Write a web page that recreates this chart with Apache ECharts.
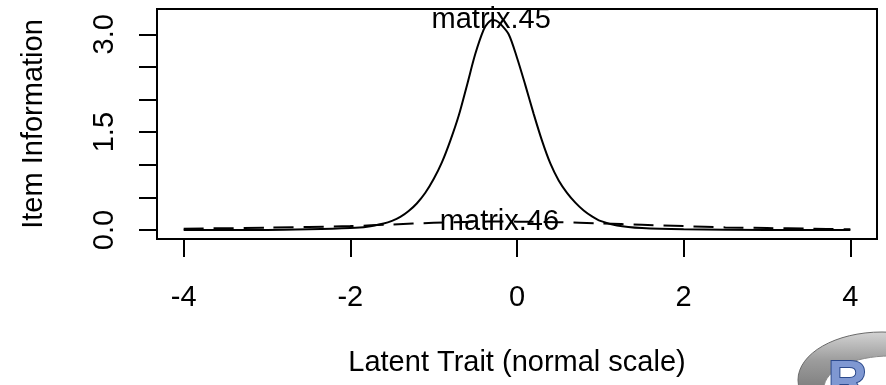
<!DOCTYPE html>
<html>
<head>
<meta charset="utf-8">
<script src="https://cdn.jsdelivr.net/npm/echarts@6/dist/echarts.min.js"></script>
<style>
html,body{margin:0;padding:0;background:#fff;}
#chart{width:886px;height:385px;}
</style>
</head>
<body>
<div id="chart"></div>
<script>
// Latent trait values (x) and item information (y)
var theta45 = [-4.0,-3.0,-2.5,-2.0,-1.8,-1.6,-1.5,-1.4,-1.3,-1.2,-1.1,-1.0,-0.9,-0.8,-0.7,-0.6,-0.5,-0.4,-0.35,-0.3,-0.25,-0.2,-0.1,0.0,0.1,0.2,0.3,0.4,0.5,0.6,0.7,0.8,0.9,1.0,1.2,1.5,2.0,3.0,4.0];
var info45  = [0.00,0.00,0.01,0.03,0.05,0.10,0.14,0.20,0.29,0.41,0.57,0.78,1.04,1.37,1.75,2.22,2.70,3.07,3.17,3.22,3.21,3.16,3.00,2.64,2.22,1.78,1.37,1.02,0.76,0.57,0.42,0.30,0.21,0.14,0.07,0.03,0.01,0.00,0.00];
var theta46 = [-4.0,-3.0,-2.0,-1.5,-1.0,-0.5,-0.2,0.0,0.5,1.0,1.5,2.0,2.5,3.0,3.5,4.0];
var info46  = [0.020,0.035,0.060,0.085,0.110,0.125,0.130,0.128,0.120,0.100,0.080,0.060,0.040,0.030,0.020,0.012];
var itemNames = ['matrix.45','matrix.46'];
var labelTheta = [-0.31,-0.21];
var labelInfo = [3.22,0.13];
var xTicks = [-4,-2,0,2,4];
var yTicks = [0,0.5,1,1.5,2,2.5,3];
var yLabels = [0,1.5,3];

function pairs(xs, ys){ return xs.map(function(x,i){ return [x, ys[i]]; }); }

var FONT = '"Liberation Sans", Arial, sans-serif';
var chart = echarts.init(document.getElementById('chart'), null, {renderer:'canvas'});
chart.setOption({
  animation:false,
  backgroundColor:'#ffffff',
  grid:{left:157, top:9, right:9, bottom:146, show:true, borderColor:'#000', borderWidth:2, backgroundColor:'transparent'},
  xAxis:{
    type:'value', min:-4.32, max:4.32,
    axisLine:{show:false, onZero:false},
    splitLine:{show:false},
    axisTick:{show:true, length:18, lineStyle:{color:'#000', width:2}, customValues:xTicks},
    axisLabel:{color:'#000', fontSize:29, fontFamily:FONT, margin:44, customValues:xTicks,
      formatter:function(v){ return String(v); }},
    name:'Latent Trait (normal scale)', nameLocation:'middle', nameGap:109,
    nameTextStyle:{color:'#000', fontSize:29, fontFamily:FONT, verticalAlign:'top'}
  },
  yAxis:{
    type:'value', min:-0.138, max:3.387,
    axisLine:{show:false, onZero:false},
    splitLine:{show:false},
    axisTick:{show:true, length:18, lineStyle:{color:'#000', width:2}, customValues:yTicks},
    axisLabel:{color:'#000', fontSize:29, fontFamily:FONT, margin:38, rotate:90, customValues:yLabels,
      formatter:function(v){ return v.toFixed(1); }},
    name:'Item Information', nameLocation:'middle', nameGap:109, nameRotate:90,
    nameTextStyle:{color:'#000', fontSize:29, fontFamily:FONT}
  },
  series:[
    {type:'line', name:itemNames[0], data:pairs(theta45, info45), showSymbol:false, smooth:0.3,
      lineStyle:{color:'#000', width:2, type:'solid'}, z:3},
    {type:'line', name:itemNames[1], data:pairs(theta46, info46), showSymbol:false, smooth:0.3,
      lineStyle:{color:'#000', width:2, type:[20,10]}, z:3},
    {type:'scatter', data:pairs(labelTheta, labelInfo).map(function(p,i){ return {value:p, name:itemNames[i]}; }),
      symbolSize:0, z:5, itemStyle:{opacity:1, color:'#000'},
      label:{show:true, position:'inside', formatter:'{b}', color:'#000', opacity:1, fontSize:29, fontFamily:FONT}}
  ],
  graphic:[
    {type:'ellipse', z:1, shape:{cx:0, cy:0, rx:84, ry:48}, x:882, y:380,
      style:{fill:new echarts.graphic.LinearGradient(0,0,0,1,[{offset:0,color:'#d4d4d4'},{offset:0.3,color:'#9c9c9c'},{offset:1,color:'#555555'}]), stroke:'#6a6a6a', lineWidth:1}},
    {type:'ellipse', z:2, shape:{cx:0, cy:0, rx:66, ry:32}, x:890, y:388,
      style:{fill:'#ffffff', stroke:'#8a8a8a', lineWidth:1}},
    {type:'text', z:3, x:828, y:356,
      style:{text:'R', fontSize:54, fontWeight:'bold', fontFamily:FONT, fill:'#7f98d2', stroke:'#2c4a8c', lineWidth:2}}
  ]
});
</script>
</body>
</html>
